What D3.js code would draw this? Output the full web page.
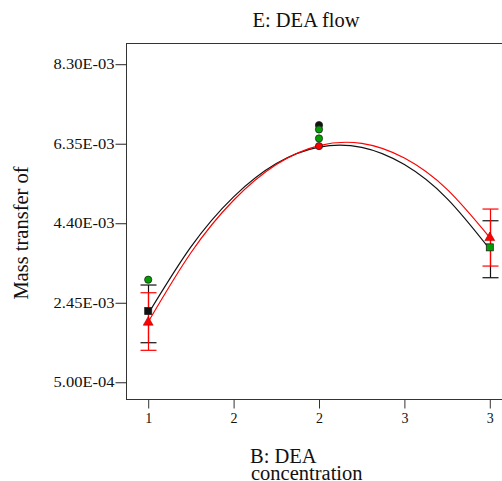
<!DOCTYPE html>
<html>
<head>
<meta charset="utf-8">
<script src="https://cdn.jsdelivr.net/npm/d3@7"></script>
<style>
  body { margin: 0; background: #fff; }
  text { font-family: "Liberation Serif", "Times New Roman", serif; }
</style>
</head>
<body>
<div id="chart"></div>
<script>
const width = 502;
const height = 481;

// factor levels on the x axis and the y tick values
const xTicks = [1, 1.5, 2, 2.5, 3];
const yTicks = [0.0005, 0.00245, 0.0044, 0.00635, 0.0083];

// model prediction lines
const curveX = [1, 1.25, 1.5, 1.75, 2, 2.25, 2.5, 2.75, 3];
const blackCurve = [0.002179, 0.003819, 0.005047, 0.005863, 0.006267, 0.00626, 0.005838, 0.005005, 0.003762];
const redCurve = [0.001978, 0.003676, 0.004963, 0.005838, 0.006304, 0.006358, 0.005998, 0.00523, 0.004049];

// LSD bars: [x, low, high]
const blackBars = [[1, 0.00147, 0.002885], [3, 0.003064, 0.004461]];
const redBars = [[1, 0.001284, 0.002696], [3, 0.00335, 0.004748]];

// design points: [x, y]
const blackCircles = [[2, 0.006806]];
const greenCircles = [[1, 0.003015], [2, 0.0067], [2, 0.00648]];
const redCircles = [[2, 0.006292]];
const blackSquares = [[1, 0.002248]];
const greenSquares = [[3, 0.003809]];
const redTriangles = [[1, 0.00197], [3, 0.004044]];

const svg = d3.select('#chart').
append('svg').
attr('width', width).
attr('height', height);

const x = d3.scaleLinear().domain([0.87, 3.13]).range([126, 512]);
const y = d3.scaleLinear().domain([0.00009, 0.00882]).range([399, 43]);

//format like 8.30E-03
function sci(v) {
  const parts = v.toExponential(2).split('e');
  const e = parseInt(parts[1], 10);
  const sign = e < 0 ? '-' : '+';
  return parts[0] + 'E' + sign + String(Math.abs(e)).padStart(2, '0');
}

//Plot frame
svg.append('rect').
attr('x', x.range()[0] + 0.5).
attr('y', y.range()[1] + 0.5).
attr('width', x.range()[1] - x.range()[0]).
attr('height', y.range()[0] - y.range()[1]).
attr('fill', 'none').
attr('stroke', '#333').
attr('stroke-width', 1);

//Y axis
const yAxis = svg.append('g').
attr('transform', 'translate(' + (x.range()[0] + 0.5) + ',0)').
call(d3.axisLeft(y).tickValues(yTicks).tickFormat(sci).tickSize(11).tickPadding(1).tickSizeOuter(0));
yAxis.select('.domain').remove();
yAxis.selectAll('.tick line').attr('stroke', '#222');
yAxis.selectAll('.tick text').
attr('font-size', 14).
attr('fill', '#111').
attr('textLength', 61).
attr('lengthAdjust', 'spacingAndGlyphs').
style('font-family', '"Liberation Serif", serif');

//X axis
const xAxis = svg.append('g').
attr('transform', 'translate(0,' + (y.range()[0] + 0.5) + ')').
call(d3.axisBottom(x).tickValues(xTicks).tickFormat(d3.format('.0f')).tickSize(9).tickPadding(5).tickSizeOuter(0));
xAxis.select('.domain').remove();
xAxis.selectAll('.tick line').attr('stroke', '#333');
xAxis.selectAll('.tick text').
attr('font-size', 14).
attr('fill', '#111').
style('font-family', '"Liberation Serif", serif');

//Title
svg.append('text').
attr('x', 306).
attr('y', 27).
attr('text-anchor', 'middle').
attr('font-size', 20.5).
attr('fill', '#111').
text('E: DEA flow');

//Axis titles
svg.append('text').
attr('transform', 'translate(28,233) rotate(-90)').
attr('text-anchor', 'middle').
attr('font-size', 20.5).
attr('fill', '#111').
text('Mass transfer of');

const xTitle = svg.append('text').
attr('font-size', 20.5).
attr('fill', '#111');
xTitle.append('tspan').attr('x', 250).attr('y', 463).text('B: DEA');
xTitle.append('tspan').attr('x', 251).attr('y', 480).text('concentration');

//Prediction lines
const line = d3.line().
x(d => x(d[0])).
y(d => y(d[1])).
curve(d3.curveNatural);

svg.append('path').
datum(curveX.map((v, i) => [v, blackCurve[i]])).
attr('fill', 'none').
attr('stroke', '#111').
attr('stroke-width', 1.2).
attr('d', line);

svg.append('path').
datum(curveX.map((v, i) => [v, redCurve[i]])).
attr('fill', 'none').
attr('stroke', '#ff0000').
attr('stroke-width', 1.2).
attr('d', line);

//LSD bars
function drawBars(data, color) {
  const g = svg.append('g').attr('stroke', color).attr('stroke-width', 1.2);
  data.forEach(d => {
    const cx = Math.round(x(d[0])) + 0.5;
    g.append('line').attr('x1', cx).attr('x2', cx).attr('y1', y(d[1])).attr('y2', y(d[2]));
    [d[1], d[2]].forEach(v => {
      g.append('line').attr('x1', cx - 8).attr('x2', cx + 8).attr('y1', y(v)).attr('y2', y(v));
    });
  });
}
drawBars(blackBars, '#111');
drawBars(redBars, '#ff0000');

//Design points
function drawCircles(data, fill) {
  svg.selectAll(null).
  data(data).
  enter().append('circle').
  attr('cx', d => x(d[0])).
  attr('cy', d => y(d[1])).
  attr('r', 3.6).
  attr('fill', fill).
  attr('stroke', '#222').
  attr('stroke-width', 0.8);
}
function drawSquares(data, fill) {
  svg.selectAll(null).
  data(data).
  enter().append('rect').
  attr('x', d => x(d[0]) - 3.5).
  attr('y', d => y(d[1]) - 3.5).
  attr('width', 7).
  attr('height', 7).
  attr('fill', fill).
  attr('stroke', '#222').
  attr('stroke-width', 0.8);
}
drawCircles(blackCircles, '#111');
drawCircles(greenCircles, '#00a000');
drawCircles(redCircles, '#ff0000');
drawSquares(blackSquares, '#111');
drawSquares(greenSquares, '#00a000');

const tri = d3.symbol().type(d3.symbolTriangle).size(42);
svg.selectAll(null).
data(redTriangles).
enter().append('path').
attr('transform', d => 'translate(' + x(d[0]) + ',' + y(d[1]) + ')').
attr('d', tri).
attr('fill', '#ff0000').
attr('stroke', '#a00').
attr('stroke-width', 0.6);
</script>
</body>
</html>
